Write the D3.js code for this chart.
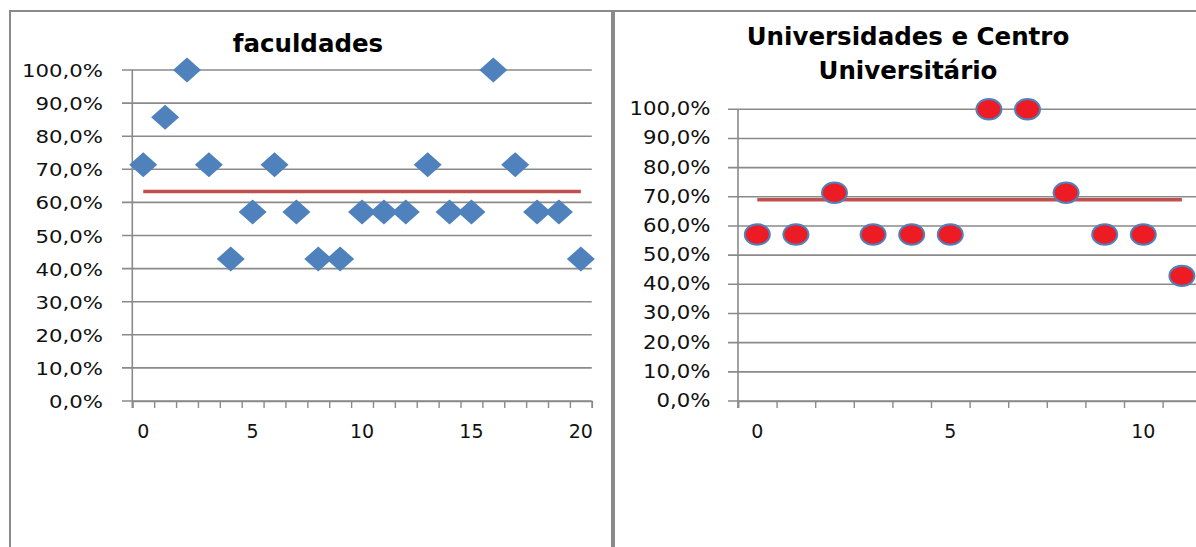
<!DOCTYPE html>
<html>
<head>
<meta charset="utf-8">
<script src="https://cdn.jsdelivr.net/npm/d3@7"></script>
<style>
  html, body { margin: 0; padding: 0; background: #fff; }
  svg { display: block; }
</style>
</head>
<body>
<svg id="graficos" width="1196" height="547"></svg>
<script>
// ---- dados ----
const facCategorias = [0,1,2,3,4,5,6,7,8,9,10,11,12,13,14,15,16,17,18,19,20];
const facValores = [0.714, 0.857, 1.000, 0.714, 0.429, 0.571, 0.714, 0.571, 0.429, 0.429,
                    0.571, 0.571, 0.571, 0.714, 0.571, 0.571, 1.000, 0.714, 0.571, 0.571, 0.429];
const facMedia = 0.633;
const facRotulosX = [0, 5, 10, 15, 20];
const facTitulo = ["faculdades"];

const uniCategorias = [0,1,2,3,4,5,6,7,8,9,10,11];
const uniValores = [0.571, 0.571, 0.714, 0.571, 0.571, 0.571, 1.000, 1.000, 0.714, 0.571, 0.571, 0.429];
const uniMedia = 0.690;
const uniRotulosX = [0, 5, 10];
const uniTitulo = ["Universidades e Centro", "Universitário"];

const yTicks = [0, 0.1, 0.2, 0.3, 0.4, 0.5, 0.6, 0.7, 0.8, 0.9, 1.0];

// ---- formato pt-BR ----
const ptBR = d3.formatLocale({ decimal: ",", thousands: ".", grouping: [3], currency: ["R$ ", ""] });
const pct = ptBR.format(".1%");

const svg = d3.select("#graficos");
const CINZA = "#8a8a8a";
const AZUL = "#4F81BD";
const VERMELHO_LINHA = "#C0504D";
const VERMELHO_PONTO = "#ED1C24";

// molduras
svg.append("rect").attr("width", 1196).attr("height", 547).attr("fill", "#fff");
svg.append("line").attr("x1", 9).attr("x2", 1196).attr("y1", 11).attr("y2", 11)
  .attr("stroke", CINZA).attr("stroke-width", 2);
svg.append("line").attr("x1", 10).attr("x2", 10).attr("y1", 10).attr("y2", 547)
  .attr("stroke", CINZA).attr("stroke-width", 2);
svg.append("line").attr("x1", 613).attr("x2", 613).attr("y1", 10).attr("y2", 547)
  .attr("stroke", CINZA).attr("stroke-width", 4);

function painel(o) {
  const g = svg.append("g");
  const n = o.cats.length;
  const x = d3.scaleLinear().domain([-0.5, n - 0.5]).range([o.x0, o.x0 + n * o.step]);
  const y = d3.scaleLinear().domain([0, 1]).range([o.yBase, o.yTopo]);

  // linhas de grade
  g.append("g").selectAll("line").data(yTicks).join("line")
    .attr("x1", o.gridL).attr("x2", Math.min(o.gridR, x(n - 0.5)))
    .attr("y1", d => y(d)).attr("y2", d => y(d))
    .attr("stroke", CINZA).attr("stroke-width", 1.6);

  // eixo vertical
  g.append("line").attr("x1", x(-0.5)).attr("x2", x(-0.5))
    .attr("y1", y(1)).attr("y2", y(0) + 7)
    .attr("stroke", CINZA).attr("stroke-width", 1.6);

  // rótulos do eixo Y
  g.append("g").selectAll("text").data(yTicks).join("text")
    .attr("transform", d => `translate(${o.labelR},${y(d) + o.labelDy}) scale(${o.labelK},1)`)
    .attr("text-anchor", "end")
    .attr("font-family", "DejaVu Sans, sans-serif")
    .attr("font-size", o.labelSize)
    .attr("fill", "#111")
    .text(d => pct(d));

  // marcas do eixo X (entre categorias)
  const eixoX = d3.axisBottom(x)
    .tickValues(o.cats.map(c => c - 0.5).concat([n - 0.5]))
    .tickSize(7).tickFormat("");
  const gx = g.append("g").attr("transform", `translate(0,${y(0)})`).call(eixoX);
  gx.select(".domain").attr("stroke", CINZA).attr("stroke-width", 1.6);
  gx.selectAll(".tick line").attr("stroke", CINZA).attr("stroke-width", 1.4);

  // rótulos do eixo X
  g.append("g").selectAll("text").data(o.rotulosX).join("text")
    .attr("x", d => x(d)).attr("y", o.xLabelY)
    .attr("text-anchor", "middle")
    .attr("font-family", "DejaVu Sans, sans-serif")
    .attr("font-size", 19)
    .attr("fill", "#111")
    .text(d => d);

  // título
  g.append("text")
    .attr("x", o.tituloX).attr("y", o.tituloY)
    .attr("text-anchor", "middle")
    .attr("font-family", "DejaVu Sans, sans-serif")
    .attr("font-weight", "bold")
    .attr("font-size", 24.5)
    .attr("fill", "#000")
    .selectAll("tspan").data(o.titulo).join("tspan")
    .attr("x", o.tituloX).attr("dy", (d, i) => i === 0 ? 0 : 34)
    .text(d => d);

  // linha da média
  g.append("line")
    .attr("x1", x(o.cats[0])).attr("x2", x(o.cats[n - 1]))
    .attr("y1", y(o.media)).attr("y2", y(o.media))
    .attr("stroke", VERMELHO_LINHA).attr("stroke-width", 3.5);

  // marcadores
  const dados = o.cats.map((c, i) => ({ c, v: o.valores[i] }));
  if (o.marcador === "losango") {
    g.append("g").selectAll("path").data(dados).join("path")
      .attr("transform", d => `translate(${x(d.c)},${y(d.v)})`)
      .attr("d", "M0,-12.5L14,0L0,12.5L-14,0Z")
      .attr("fill", AZUL);
  } else {
    g.append("g").selectAll("ellipse").data(dados).join("ellipse")
      .attr("cx", d => x(d.c)).attr("cy", d => y(d.v))
      .attr("rx", 12.5).attr("ry", 10.2)
      .attr("fill", VERMELHO_PONTO)
      .attr("stroke", AZUL).attr("stroke-width", 2);
  }
}

painel({
  cats: facCategorias, valores: facValores, media: facMedia, rotulosX: facRotulosX,
  titulo: facTitulo, tituloX: 308, tituloY: 52,
  x0: 132.3, step: 21.88, yBase: 401, yTopo: 70,
  gridL: 122, gridR: 592,
  labelR: 103, labelDy: 7, labelSize: 17, labelK: 1.25,
  xLabelY: 438, marcador: "losango"
});

painel({
  cats: uniCategorias, valores: uniValores, media: uniMedia, rotulosX: uniRotulosX,
  titulo: uniTitulo, tituloX: 908, tituloY: 45,
  x0: 738, step: 38.6, yBase: 401, yTopo: 109.3,
  gridL: 728, gridR: 1210,
  labelR: 710.5, labelDy: 6, labelSize: 19.5, labelK: 1.09,
  xLabelY: 438, marcador: "circulo"
});
</script>
</body>
</html>
